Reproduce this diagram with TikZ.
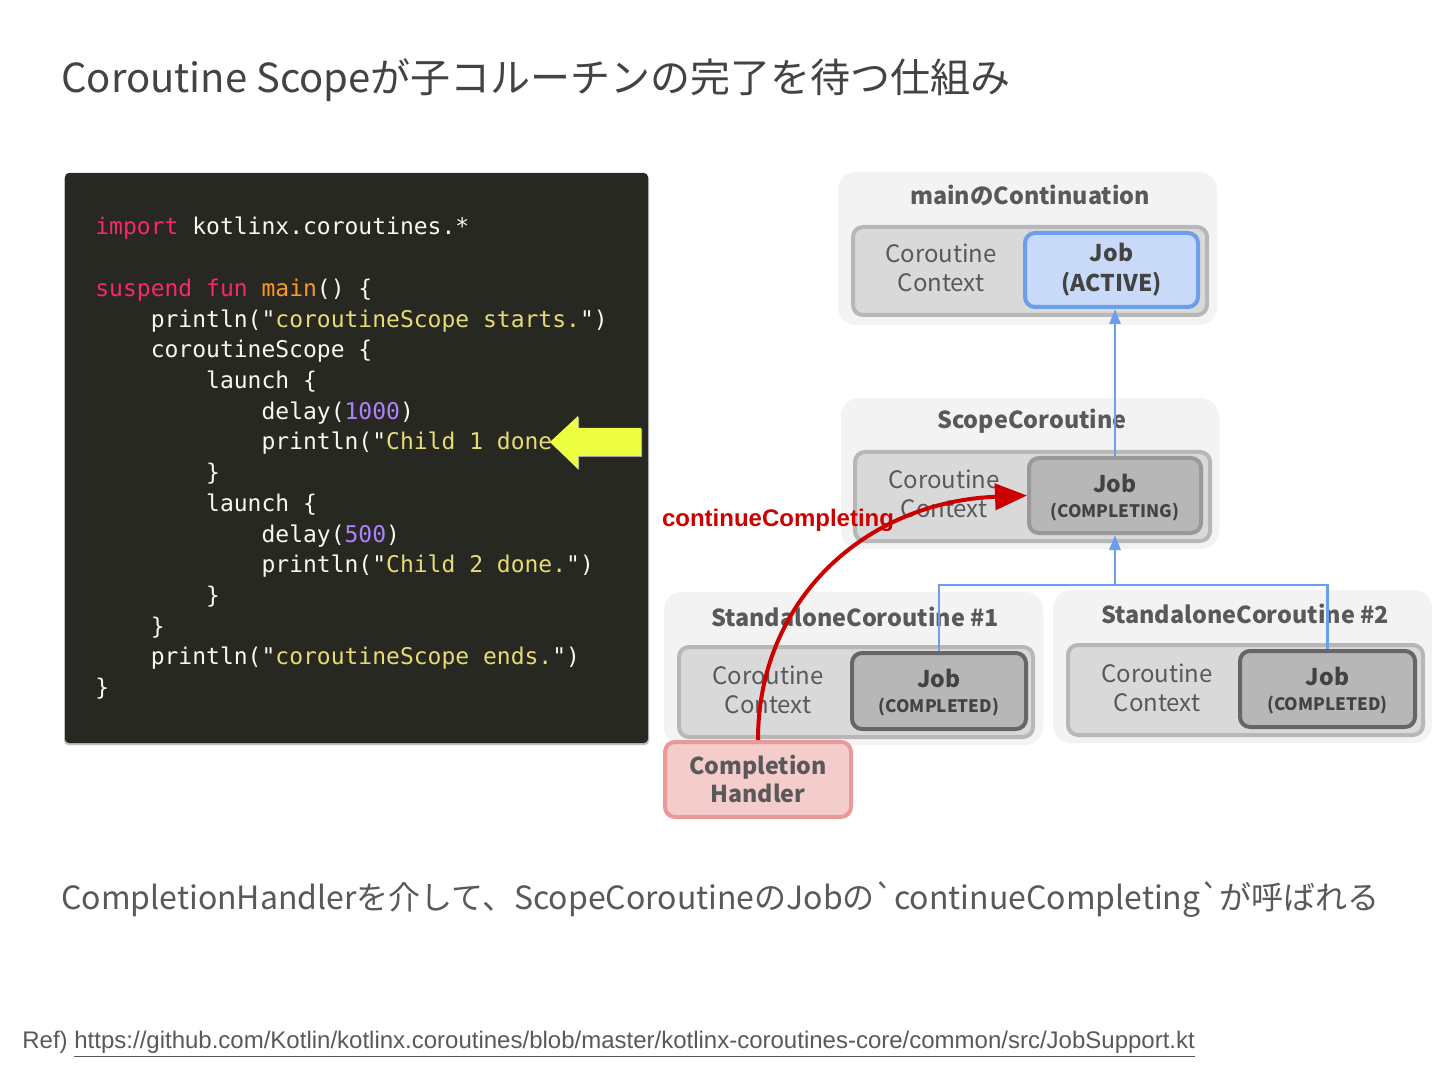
\documentclass[tikz,border=0pt]{standalone}
\usepackage{fontspec}
\setmainfont{Noto Sans CJK JP}
\newfontfamily\codefont{DejaVu Sans Mono}
\newfontfamily\arialfont{Liberation Sans}
\usetikzlibrary{arrows.meta,positioning,fit,calc}
\definecolor{codebg}{HTML}{272822}
\definecolor{codefg}{HTML}{F8F8F2}
\definecolor{kwpink}{HTML}{F92672}
\definecolor{fnorange}{HTML}{FD971F}
\definecolor{stryel}{HTML}{E6DB74}
\definecolor{numpurple}{HTML}{AE81FF}
\definecolor{hilite}{HTML}{EEFF41}
\definecolor{panel}{HTML}{F3F3F3}
\definecolor{ctxfill}{HTML}{D9D9D9}
\definecolor{ctxline}{HTML}{B7B7B7}
\definecolor{jobblue}{HTML}{C9DAF8}
\definecolor{jobblued}{HTML}{6D9EEB}
\definecolor{jobgray}{HTML}{B7B7B7}
\definecolor{jobgrayd}{HTML}{666666}
\definecolor{jobgraym}{HTML}{999999}
\definecolor{hdlfill}{HTML}{F4CCCC}
\definecolor{hdlline}{HTML}{EA9999}
\definecolor{txtgray}{HTML}{595959}
\definecolor{ttlgray}{HTML}{434343}
\definecolor{callred}{HTML}{CC0000}
\newcommand\kkw[1]{\textcolor{kwpink}{#1}}
\newcommand\kstr[1]{"\textcolor{stryel}{#1}"}
\newcommand\knum[1]{\textcolor{numpurple}{#1}}
\newcommand\jobstate{\fontsize{8.6pt}{12.5pt}\selectfont}

\begin{document}
\begin{tikzpicture}[
   x=0.5pt,y=-0.5pt,
   outerbox/.style ={fill=panel,rounded corners=9pt,inner sep=0pt},
   ctxbox/.style   ={fill=ctxfill,draw=ctxline,line width=2pt,rounded corners=5pt,inner sep=0pt},
   ctxtext/.style  ={text=txtgray,align=center,font=\fontsize{12pt}{14.5pt}\selectfont},
   boxtitle/.style ={text=txtgray,font=\fontsize{11.7pt}{14pt}\selectfont\bfseries},
   jobact/.style   ={fill=jobblue,draw=jobblued,line width=2pt,rounded corners=5pt,inner sep=0pt},
   jobdone/.style  ={fill=jobgray,draw=jobgrayd,line width=2pt,rounded corners=5pt,inner sep=0pt},
   jobtext/.style  ={text=ttlgray,align=center,font=\fontsize{11.5pt}{15pt}\selectfont\bfseries},
   jobdtext/.style ={jobtext,font=\fontsize{11.5pt}{12.5pt}\selectfont\bfseries},
   handler/.style  ={fill=hdlfill,draw=hdlline,line width=2pt,rounded corners=5pt,inner sep=0pt},
   hdltext/.style  ={text=txtgray,align=center,font=\fontsize{11.6pt}{14pt}\selectfont\bfseries},
   tree/.style     ={draw=jobblued,line width=1.3pt},
   up/.style       ={tree,-{Triangle[length=7.5pt,width=5.5pt]}},
   call/.style     ={draw=callred,line width=2pt,-{Triangle[length=16pt,width=13pt]}}
  ]
  \fill[white] (0,0) rectangle (1440,1080);
  \useasboundingbox (0,0) rectangle (1440,1080);

  % title
  \node[anchor=west,inner sep=0pt,text=ttlgray,font=\fontsize{20pt}{24pt}\selectfont] (title) at (61,80)
    {Coroutine Scopeが子コルーチンの完了を待つ仕組み};

  % code
  \fill[black!25,rounded corners=2pt] (64,175) rectangle (649,745);
  \fill[codebg,rounded corners=2pt] (65,173) rectangle (648,743);
  \node[anchor=north west,inner sep=0pt,align=left,text=codefg,
        font=\codefont\fontsize{11.5pt}{15.35pt}\selectfont] (code) at (95,217) {%
    \kkw{import} kotlinx.coroutines.*\\
    \mbox{}\\
    \kkw{suspend} \kkw{fun} \textcolor{fnorange}{main}() \{\\
    ~~~~println(\kstr{coroutineScope starts.})\\
    ~~~~coroutineScope \{\\
    ~~~~~~~~launch \{\\
    ~~~~~~~~~~~~delay(\knum{1000})\\
    ~~~~~~~~~~~~println(\kstr{Child 1 done.})\\
    ~~~~~~~~\}\\
    ~~~~~~~~launch \{\\
    ~~~~~~~~~~~~delay(\knum{500})\\
    ~~~~~~~~~~~~println(\kstr{Child 2 done.})\\
    ~~~~~~~~\}\\
    ~~~~\}\\
    ~~~~println(\kstr{coroutineScope ends.})\\
    \}};
  \fill[black!35] (551,443) -- (579,417) -- (579,429) -- (642,429) -- (642,457) -- (579,457) -- (579,470) -- cycle;
  \fill[hilite] (550,442) -- (578,416) -- (578,428) -- (641,428) -- (641,456) -- (578,456) -- (578,469) -- cycle;

  % main continuation
  \node[outerbox,fit={(838,172) (1217,325)}] (mainBox) {};
  \node[boxtitle] (mainTitle) at (1030,195) {mainのContinuation};
  \node[ctxbox,fit={(853,227) (1207,315)}] (mainCtx) {};
  \node[ctxtext] (mainCtxTxt) at (941,268) {Coroutine\\Context};
  \node[jobact,fit={(1025,233) (1198,307)}] (mainJob) {};
  \node[jobtext] (mainJobTxt) at (mainJob) {Job\\(ACTIVE)};

  % scope coroutine
  \node[outerbox,fit={(841,398) (1219,549)}] (scopeBox) {};
  \node[boxtitle] (scopeTitle) at (1032,421) {ScopeCoroutine};
  \node[ctxbox,fit={(855,452) (1210,541)}] (scopeCtx) {};
  \node[ctxtext] (scopeCtxTxt) at (944,494) {Coroutine\\Context};
  \node[jobdone,draw=jobgraym,fit={(1029,458) (1201,533)}] (scopeJob) {};
  \node[jobdtext] (scopeJobTxt) at ([yshift=-1pt]scopeJob) {Job\\{\jobstate (COMPLETING)}};

  % standalone coroutines
  \node[outerbox,fit={(664,592) (1043,745)}] (sc1Box) {};
  \node[boxtitle] (sc1Title) at (855,617) {StandaloneCoroutine \#1};
  \node[ctxbox,fit={(679,647) (1033,737)}] (sc1Ctx) {};
  \node[ctxtext] (sc1CtxTxt) at (768,690) {Coroutine\\Context};
  \node[jobdone,fit={(852,653) (1026,729)}] (sc1Job) {};
  \node[jobdtext] (sc1JobTxt) at ([yshift=-1pt]sc1Job) {Job\\{\jobstate (COMPLETED)}};

  \node[outerbox,fit={(1053,590) (1432,743)}] (sc2Box) {};
  \node[boxtitle] (sc2Title) at (1245,614) {StandaloneCoroutine \#2};
  \node[ctxbox,fit={(1068,645) (1423,735)}] (sc2Ctx) {};
  \node[ctxtext] (sc2CtxTxt) at (1157,688) {Coroutine\\Context};
  \node[jobdone,fit={(1240,651) (1415,727)}] (sc2Job) {};
  \node[jobdtext] (sc2JobTxt) at ([yshift=-1pt]sc2Job) {Job\\{\jobstate (COMPLETED)}};

  % job tree
  \coordinate (fork) at (scopeJob.south |- 0,585);
  \draw[up] (scopeJob.north) -- (scopeJob.north |- mainJob.south);
  \draw[tree] (sc1Job.north) |- (fork) -| (sc2Job.north);
  \draw[up] (fork) -- (scopeJob.south);

  % completion handler
  \node[handler,fit={(665,742) (851,817)}] (hdl) {};
  \node[hdltext] (hdlTxt) at (hdl) {Completion\\Handler};
  \draw[call] (hdl.north) .. controls (758,600) and (865,502) .. (scopeJob.west);
  \node[text=callred,font=\arialfont\fontsize{12pt}{14pt}\selectfont\bfseries] (callLbl) at (778,520) {continueCompleting};

  % notes
  \node[anchor=west,inner sep=0pt,text=txtgray,font=\fontsize{16pt}{19pt}\selectfont] (note) at (61,900)
    {CompletionHandlerを介して、ScopeCoroutineのJobの\textasciigrave continueCompleting\textasciigrave が呼ばれる};
  \node[anchor=west,inner sep=0pt,text=txtgray,font=\arialfont\fontsize{12pt}{14pt}\selectfont] (ref) at (22,1044)
    {Ref) \underline{https://github.com/Kotlin/kotlinx.coroutines/blob/master/kotlinx-coroutines-core/common/src/JobSupport.kt}};
\end{tikzpicture}
\end{document}
